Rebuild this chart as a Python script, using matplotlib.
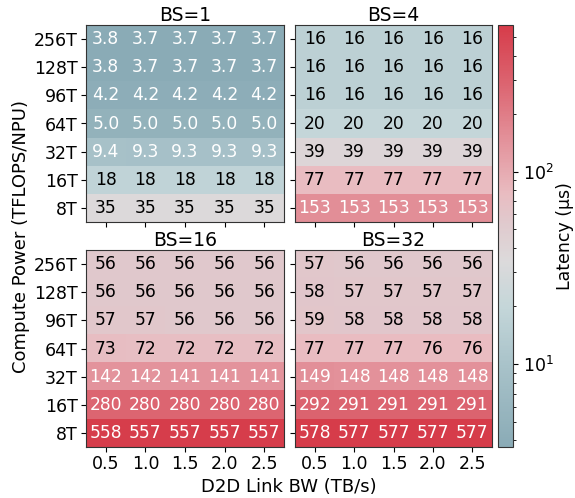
import numpy as np
import matplotlib
matplotlib.use("Agg")
import matplotlib.pyplot as plt
from matplotlib.colors import LogNorm, LinearSegmentedColormap

# compute power rows (top to bottom) and link bandwidth columns
compute = ['256T', '128T', '96T', '64T', '32T', '16T', '8T']
link_bw = ['0.5', '1.0', '1.5', '2.0', '2.5']
batch_sizes = [1, 4, 16, 32]

# latency in microseconds
lat_bs1 = [[3.8, 3.7, 3.7, 3.7, 3.7],
           [3.8, 3.7, 3.7, 3.7, 3.7],
           [4.2, 4.2, 4.2, 4.2, 4.2],
           [5.0, 5.0, 5.0, 5.0, 5.0],
           [9.4, 9.3, 9.3, 9.3, 9.3],
           [18, 18, 18, 18, 18],
           [35, 35, 35, 35, 35]]
lat_bs4 = [[16, 16, 16, 16, 16],
           [16, 16, 16, 16, 16],
           [16, 16, 16, 16, 16],
           [20, 20, 20, 20, 20],
           [39, 39, 39, 39, 39],
           [77, 77, 77, 77, 77],
           [153, 153, 153, 153, 153]]
lat_bs16 = [[56, 56, 56, 56, 56],
            [56, 56, 56, 56, 56],
            [57, 57, 56, 56, 56],
            [73, 72, 72, 72, 72],
            [142, 142, 141, 141, 141],
            [280, 280, 280, 280, 280],
            [558, 557, 557, 557, 557]]
lat_bs32 = [[57, 56, 56, 56, 56],
            [58, 57, 57, 57, 57],
            [59, 58, 58, 58, 58],
            [77, 77, 77, 76, 76],
            [149, 148, 148, 148, 148],
            [292, 291, 291, 291, 291],
            [578, 577, 577, 577, 577]]
all_lat = [lat_bs1, lat_bs4, lat_bs16, lat_bs32]

cmap = LinearSegmentedColormap.from_list('lat', [
    (0.0, '#8aabb6'),
    (0.19, '#a8c2c9'),
    (0.33, '#c4d6d9'),
    (0.44, '#dcdadb'),
    (0.54, '#e1c8cc'),
    (0.60, '#e9bcc1'),
    (0.73, '#e3919a'),
    (0.86, '#dc6571'),
    (1.0, '#d63c4a')])

vmin = min(np.min(a) for a in all_lat)
vmax = max(np.max(a) for a in all_lat)
norm = LogNorm(vmin=vmin, vmax=vmax)

W, H = 575, 498
fig = plt.figure(figsize=(W / 100, H / 100), dpi=100)

def box(x0, y0, x1, y1):
    return [x0 / W, 1 - y1 / H, (x1 - x0) / W, (y1 - y0) / H]

boxes = [box(86, 25, 284, 222), box(295, 25, 492, 222),
         box(86, 250, 284, 447), box(295, 250, 492, 447)]

for i, (bs, lat, b) in enumerate(zip(batch_sizes, all_lat, boxes)):
    ax = fig.add_axes(b)
    arr = np.array(lat, dtype=float)
    im = ax.imshow(arr, cmap=cmap, norm=norm, aspect='auto', interpolation='nearest')
    for r in range(arr.shape[0]):
        for c in range(arr.shape[1]):
            v = arr[r, c]
            txt = f'{v:.1f}' if v < 10 else f'{v:.0f}'
            col = 'white' if (v < 10 or v > 100) else 'black'
            ax.text(c, r, txt, ha='center', va='center', fontsize=12.3, color=col)
    ax.set_xticks(range(len(link_bw)))
    ax.set_yticks(range(len(compute)))
    if i >= 2:
        ax.set_xticklabels(link_bw, fontsize=12.5)
    else:
        ax.set_xticklabels([])
    if i % 2 == 0:
        ax.set_yticklabels(compute, fontsize=12.5)
    else:
        ax.set_yticklabels([])
    ax.tick_params(pad=2.5)
    ax.set_title(f'BS={bs}', fontsize=13.5, pad=3)
    for s in ax.spines.values():
        s.set_color('#333333')

cax = fig.add_axes(box(498, 25, 513, 447))
cb = fig.colorbar(im, cax=cax)
cb.set_label('Latency (μs)', fontsize=12.5, labelpad=2)
cb.ax.tick_params(labelsize=12.5)
cb.outline.set_edgecolor('#333333')

fig.text(289 / W, 1 - 487 / H, 'D2D Link BW (TB/s)', ha='center', va='center', fontsize=13)
fig.text(21 / W, 1 - 236 / H, 'Compute Power (TFLOPS/NPU)', ha='center', va='center',
         rotation=90, fontsize=13)

fig.savefig('out.png', dpi=100)
